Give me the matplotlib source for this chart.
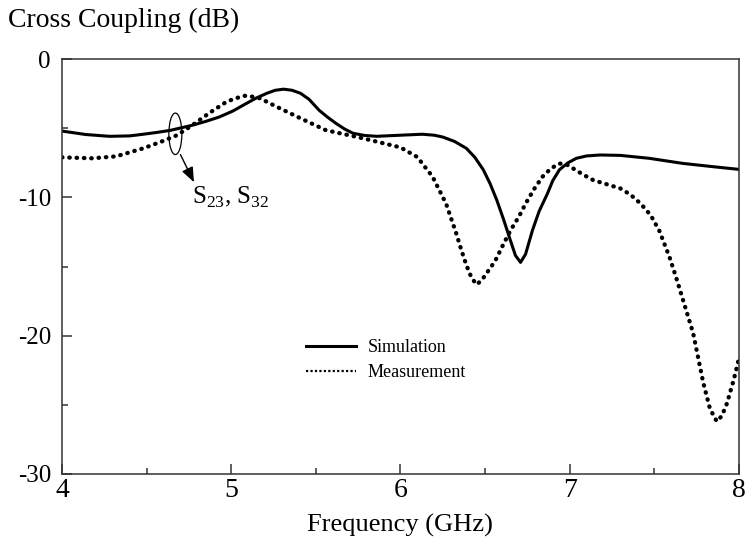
import matplotlib
matplotlib.use("Agg")
import matplotlib.pyplot as plt
from matplotlib.patches import Ellipse

plt.rcParams["font.family"] = ["Liberation Serif", "DejaVu Serif"]
plt.rcParams["mathtext.fontset"] = "custom"
plt.rcParams["mathtext.rm"] = "Liberation Serif"
plt.rcParams["axes.unicode_minus"] = False

# Simulation curve (GHz, dB)
sim_freq = [4.00, 4.14, 4.28, 4.40, 4.48, 4.56, 4.64, 4.77, 4.85, 4.93, 5.01,
            5.09, 5.15, 5.21, 5.26, 5.31, 5.36, 5.41, 5.46, 5.52, 5.57, 5.62,
            5.67, 5.72, 5.79, 5.86, 6.00, 6.13, 6.20, 6.25, 6.32, 6.39, 6.44,
            6.49, 6.53, 6.57, 6.61, 6.65, 6.68, 6.71, 6.74, 6.78, 6.82, 6.87,
            6.90, 6.94, 6.99, 7.04, 7.10, 7.18, 7.30, 7.47, 7.67, 7.85, 8.00]
sim_db = [-5.2, -5.45, -5.58, -5.55, -5.43, -5.3, -5.15, -4.78, -4.5, -4.18, -3.75,
          -3.2, -2.8, -2.47, -2.25, -2.17, -2.25, -2.47, -2.9, -3.7, -4.2, -4.65,
          -5.05, -5.36, -5.52, -5.58, -5.5, -5.43, -5.5, -5.63, -5.95, -6.45, -7.1,
          -8.0, -9.0, -10.2, -11.6, -13.1, -14.2, -14.7, -14.1, -12.4, -11.0, -9.7,
          -8.8, -8.0, -7.5, -7.17, -7.0, -6.93, -6.96, -7.17, -7.54, -7.78, -7.97]

# Measurement curve (GHz, dB)
meas_freq = [4.00, 4.18, 4.32, 4.48, 4.58, 4.68, 4.77, 4.87, 4.97, 5.02, 5.08,
             5.12, 5.17, 5.27, 5.41, 5.56, 5.76, 6.00, 6.10, 6.19, 6.27, 6.33,
             6.36, 6.39, 6.42, 6.45, 6.48, 6.52, 6.56, 6.60, 6.65, 6.70, 6.74,
             6.79, 6.84, 6.89, 6.94, 6.98, 7.02, 7.08, 7.14, 7.22, 7.30, 7.36,
             7.42, 7.48, 7.53, 7.59, 7.63, 7.67, 7.73, 7.79, 7.83, 7.87, 7.90,
             7.93, 7.97, 8.00]
meas_db = [-7.1, -7.17, -7.03, -6.45, -6.0, -5.5, -4.78, -3.9, -3.1, -2.85, -2.65,
           -2.7, -2.83, -3.45, -4.28, -5.14, -5.67, -6.38, -7.08, -8.5, -10.45, -12.6,
           -13.8, -14.9, -15.8, -16.3, -16.0, -15.3, -14.6, -13.6, -12.4, -11.4, -10.45,
           -9.4, -8.5, -7.9, -7.55, -7.6, -7.9, -8.35, -8.75, -9.05, -9.35, -9.8,
           -10.45, -11.3, -12.4, -14.3, -15.8, -17.4, -19.8, -23.4, -25.3, -26.2, -25.8,
           -24.9, -23.2, -21.7]

x_ticks = [4, 5, 6, 7, 8]
y_ticks = [0, -10, -20, -30]

fig = plt.figure(figsize=(7.47, 5.53), dpi=100)
ax = fig.add_axes([0.083, 0.143, 0.906, 0.75])

ax.plot(sim_freq, sim_db, color="black", lw=2.2, label="Simulation")
ax.plot(meas_freq, meas_db, color="black", lw=3.1,
        linestyle=(0, (0.1, 1.6)), dash_capstyle="round")

# legend handle for measurement uses finer dots
ax.plot([], [], color="black", lw=1.6, linestyle=(0, (1, 1)), label="Measurement")

ax.set_xlim(4, 8)
ax.set_ylim(-30, 0)
ax.set_xticks(x_ticks)
ax.set_yticks(y_ticks)
ax.set_xticks([4.5, 5.5, 6.5, 7.5], minor=True)
ax.set_yticks([-5, -15, -25], minor=True)
ax.tick_params(axis="both", which="both", direction="in", top=False, right=False,
               color="#333333")
ax.tick_params(axis="both", which="major", length=7.5, width=1.1)
ax.tick_params(axis="both", which="minor", length=4, width=1.1)
ax.tick_params(axis="x", which="major", labelsize=20, pad=3)
ax.tick_params(axis="y", which="major", labelsize=18, pad=8)
for sp in ax.spines.values():
    sp.set_color("#333333")
    sp.set_linewidth(1.1)

ax.legend(loc="upper left", bbox_to_anchor=(0.36, 0.325), frameon=False,
          fontsize=13, handlelength=2.8, handletextpad=0.65,
          borderpad=0, borderaxespad=0, labelspacing=0.45)

# S-parameter annotation
ax.add_patch(Ellipse((4.67, -5.4), 0.077, 3.0, fill=False, lw=0.9, color="black"))
ax.annotate("", xy=(4.78, -8.9), xytext=(4.70, -6.9),
            arrowprops=dict(arrowstyle="-|>,head_length=0.75,head_width=0.3",
                            mutation_scale=12, color="black",
                            lw=1, shrinkA=0, shrinkB=0))
ax.text(4.77, -10.0, r"S$_{23}$, S$_{32}$", fontsize=18, va="center", ha="left")

fig.text(0.011, 0.985, "Cross Coupling (dB)", fontsize=20, ha="left", va="top")
fig.text(0.536, 0.05, "Frequency (GHz)", fontsize=19, ha="center", va="center")

fig.savefig("out.png", dpi=100)
